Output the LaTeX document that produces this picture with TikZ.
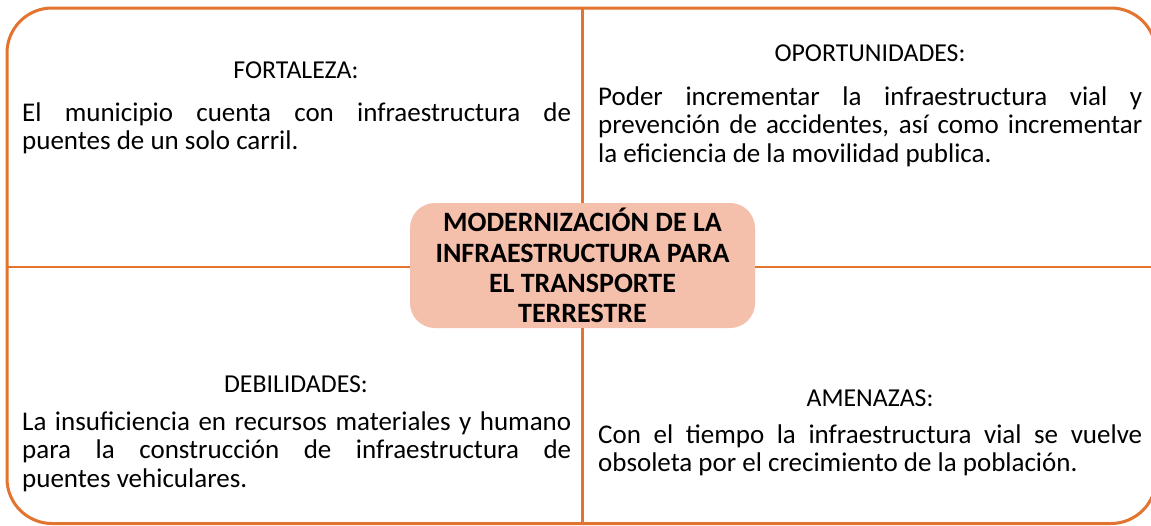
\documentclass[tikz,border=0pt]{standalone}
\usepackage{fontspec}
\setmainfont{Carlito}
\definecolor{lineorange}{HTML}{E2742F}
\definecolor{boxfill}{HTML}{F4BFAB}
\begin{document}
\begin{tikzpicture}[x=1pt,y=-1pt,
  head/.style={font=\fontsize{25.8}{28.5}\selectfont, inner sep=0pt, anchor=base},
  body/.style={font=\fontsize{27}{28.5}\selectfont, inner sep=0pt,
    anchor=base west, text width=549pt, align=justify,
    execute at begin node={\hyphenpenalty=10000\tolerance=9999}},
  divider/.style={draw=lineorange, line width=2.5pt},
  framebox/.style={draw=lineorange, line width=3pt, rounded corners=45pt},
  centerbox/.style={fill=boxfill, rounded corners=25pt, minimum width=345pt,
    minimum height=125pt, inner sep=0pt, align=center,
    font=\bfseries\fontsize{28}{30.3}\selectfont}]
\useasboundingbox (0,0) rectangle (1151,525);
\clip (0,0) rectangle (1151,525);
\fill[white] (0,0) rectangle (1151,525);
\draw[framebox] (7,8) rectangle (1156,523.5);
\coordinate (vt) at (582.5,8);
\coordinate (vb) at (582.5,523.5);
\coordinate (hl) at (7,267);
\coordinate (hr) at (1156,267);
\node[centerbox] (c) at (582.5,265.5) {MODERNIZACIÓN DE LA\\INFRAESTRUCTURA PARA\\EL TRANSPORTE\\TERRESTRE};
\draw[divider] (vt) -- (c.north);
\draw[divider] (c.south) -- (vb);
\draw[divider] (hl) -- (hl -| c.west);
\draw[divider] (hr -| c.east) -- (hr);
\node[head] (fh) at (296,78) {FORTALEZA:};
\node[body] (ft) at (22,121) {El municipio cuenta con infraestructura de\linebreak puentes de un solo carril.};
\node[head] (oh) at (870,61) {OPORTUNIDADES:};
\node[body, text width=544pt] (ot) at (598,105) {Poder incrementar la infraestructura vial y\linebreak prevención de accidentes, así como incrementar\linebreak la eficiencia de la movilidad publica.};
\node[head] (dh) at (296,392) {DEBILIDADES:};
\node[body] (dt) at (22,430) {La insuficiencia en recursos materiales y humano\linebreak para la construcción de infraestructura de\linebreak puentes vehiculares.};
\node[head] (ah) at (870,406) {AMENAZAS:};
\node[body, text width=544pt] (at) at (598,443) {Con el tiempo la infraestructura vial se vuelve\linebreak obsoleta por el crecimiento de la población.};
\end{tikzpicture}
\end{document}
